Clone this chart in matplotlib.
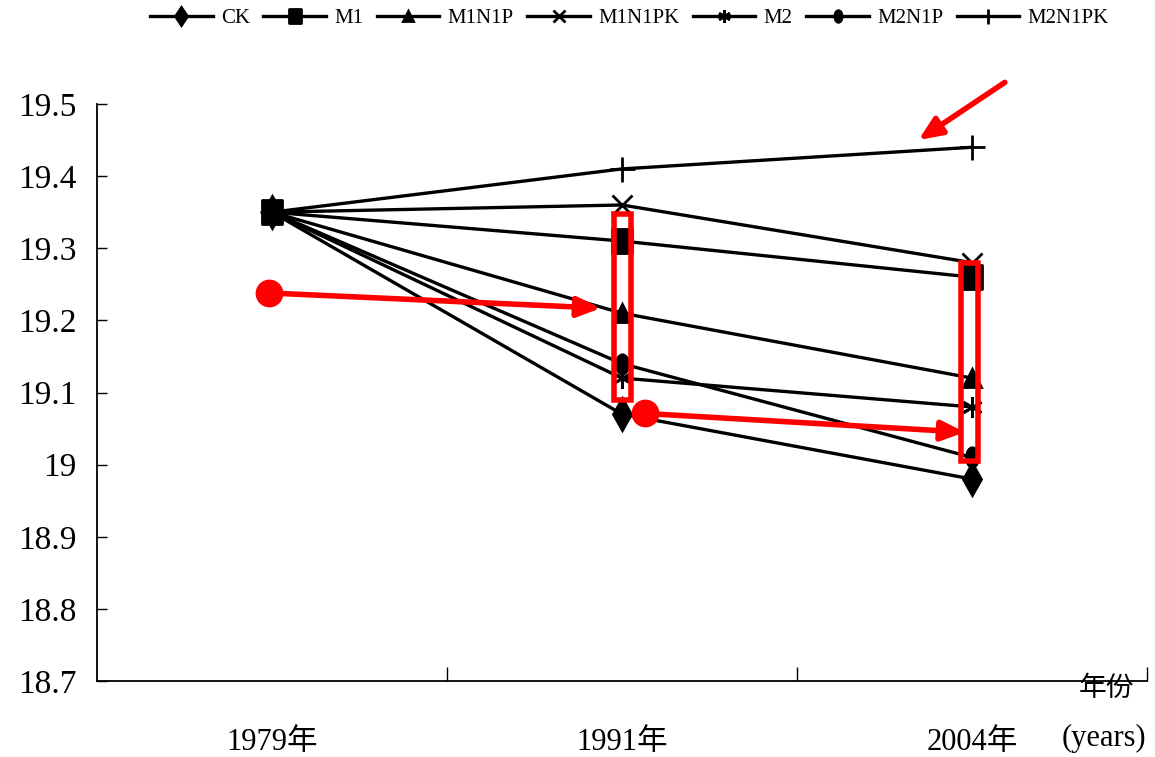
import matplotlib.pyplot as plt
from matplotlib.path import Path
from matplotlib.transforms import Affine2D
from matplotlib.patches import Rectangle

plt.rcParams['font.family'] = ['Liberation Serif', 'Noto Sans CJK SC']

years = ['1979年', '1991年', '2004年']
y_ticks = [18.7, 18.8, 18.9, 19.0, 19.1, 19.2, 19.3, 19.4, 19.5]
y_tick_labels = ['18.7', '18.8', '18.9', '19', '19.1', '19.2', '19.3', '19.4', '19.5']

ck = [19.35, 19.07, 18.98]
m1 = [19.35, 19.31, 19.26]
m1n1p = [19.35, 19.21, 19.12]
m1n1pk = [19.35, 19.36, 19.28]
m2 = [19.35, 19.12, 19.08]
m2n1p = [19.35, 19.14, 19.01]
m2n1pk = [19.35, 19.41, 19.44]

# tall marker shapes (squashed horizontally)
ellipse = Path.unit_circle().transformed(Affine2D().scale(0.62, 1.0))
tall_square = Path.unit_rectangle().transformed(Affine2D().translate(-0.5, -0.5).scale(0.85, 1.0))

# name, values, marker, size, zorder
series = [
    ('CK', ck, 'd', 16, 2),
    ('M1', m1, tall_square, 17, 3),
    ('M1N1P', m1n1p, '^', 13, 2),
    ('M1N1PK', m1n1pk, 'x', 14, 2),
    ('M2', m2, (6, 2, 0), 15, 2),
    ('M2N1P', m2n1p, ellipse, 14, 2),
    ('M2N1PK', m2n1pk, '+', 18, 2),
]

fig = plt.figure(figsize=(11.55, 7.57), dpi=100)
ax = fig.add_axes([0.084, 0.1004, 0.909, 0.7622])

x = range(len(years))
for name, vals, mk, ms, z in series:
    ax.plot(x, vals, color='black', lw=2.4, marker=mk, markersize=ms,
            markeredgewidth=2, markerfacecolor='black', markeredgecolor='black',
            label=name, zorder=z)

ax.set_xlim(-0.5, 2.5)
ax.set_ylim(18.7, 19.5)
ax.set_yticks(y_ticks)
ax.set_yticklabels(y_tick_labels, fontsize=24)
ax.set_xticks([0.5, 1.5, 2.5])
ax.set_xticklabels([])
ax.set_xticks(list(x), minor=True)
ax.set_xticklabels(years, minor=True, fontsize=22)
ax.tick_params(axis='x', which='major', direction='in', length=10, width=1)
ax.tick_params(axis='x', which='minor', length=0, pad=34)
ax.tick_params(axis='y', direction='in', length=7, width=1, pad=15)
for s in ['top', 'right']:
    ax.spines[s].set_visible(False)
for s in ['left', 'bottom']:
    ax.spines[s].set_linewidth(1.3)

ax.text(2.383, 18.69, '年份', fontsize=20, ha='center', va='center',
        family=['Noto Sans CJK SC'], clip_on=False)
ax.text(2.378, 18.621, '(years)', fontsize=22, ha='center', va='center',
        clip_on=False)

fig.legend(loc='center', bbox_to_anchor=(0.545, 0.976), ncol=7,
           frameon=False, fontsize=15, handlelength=3.0, handletextpad=0.4,
           columnspacing=0.65, markerscale=0.6)

# red highlight boxes and arrows
red = '#ff0000'
ax.add_patch(Rectangle((0.977, 19.09), 0.05, 0.258, fill=False,
                       edgecolor=red, lw=4, zorder=5))
ax.add_patch(Rectangle((1.968, 19.005), 0.05, 0.275, fill=False,
                       edgecolor=red, lw=4, zorder=5))

arrow_style = dict(arrowstyle='-|>,head_length=1.4,head_width=0.6',
                   color=red, lw=4, shrinkA=0, shrinkB=0)
ax.annotate('', xy=(1.847, 19.45), xytext=(2.094, 19.53),
            arrowprops=arrow_style, annotation_clip=False)
ax.annotate('', xy=(0.94, 19.217), xytext=(-0.008, 19.238),
            arrowprops=arrow_style)
ax.annotate('', xy=(1.98, 19.045), xytext=(1.065, 19.071),
            arrowprops=arrow_style)
ax.plot([-0.008, 1.065], [19.238, 19.071], 'o', color=red, markersize=19,
        zorder=6)

fig.savefig('out.png', dpi=100)
